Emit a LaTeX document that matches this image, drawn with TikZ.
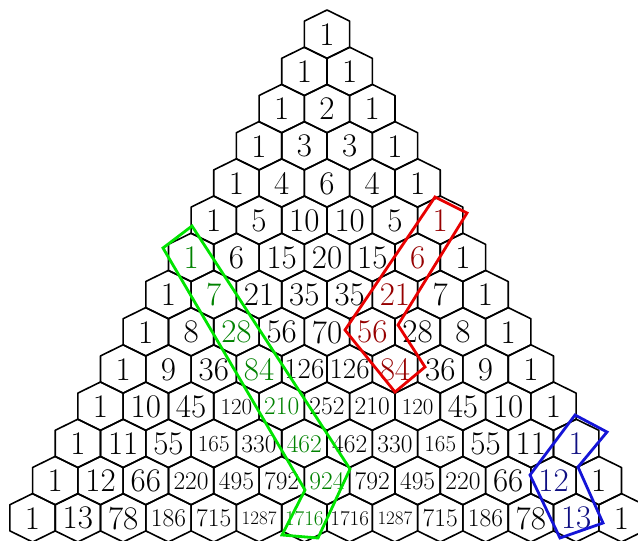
\documentclass[tikz,border=0pt]{standalone}
\definecolor{stickgreen}{RGB}{0,228,0}
\definecolor{stickred}{RGB}{232,0,0}
\definecolor{stickblue}{RGB}{20,20,215}
\definecolor{greentext}{RGB}{0,130,0}
\definecolor{redtext}{RGB}{150,0,0}
\definecolor{bluetext}{RGB}{15,15,130}
\tikzset{every picture/.style={line width=0.75pt}}
\tikzset{
  hexcell/.style={draw=black, line width=1.6pt, line join=round},
  numcell/.style={inner sep=0pt, anchor=center},
  stick/.style={line width=2.8pt, line join=miter},
  % numbers inside the marked cells
  cell 6-0/.style={text=greentext}, cell 7-1/.style={text=greentext},
  cell 8-2/.style={text=greentext}, cell 9-3/.style={text=greentext},
  cell 10-4/.style={text=greentext}, cell 11-5/.style={text=greentext},
  cell 12-6/.style={text=greentext}, cell 13-6/.style={text=greentext},
  cell 5-5/.style={text=redtext}, cell 6-5/.style={text=redtext},
  cell 7-5/.style={text=redtext}, cell 8-5/.style={text=redtext},
  cell 9-6/.style={text=redtext},
  cell 11-11/.style={text=bluetext}, cell 12-11/.style={text=bluetext},
  cell 13-12/.style={text=bluetext}
}

\begin{document}
\begin{tikzpicture}[x=1pt,y=1pt,yscale=-1,xscale=1]
	\useasboundingbox (0,0) rectangle (638,541);
	
	% Pascal rows, one hexagon per entry
	\foreach \r/\vals in {0/{1},1/{1,1},2/{1,2,1},3/{1,3,3,1},4/{1,4,6,4,1},
		5/{1,5,10,10,5,1},6/{1,6,15,20,15,6,1},7/{1,7,21,35,35,21,7,1},
		8/{1,8,28,56,70,56,28,8,1},9/{1,9,36,84,126,126,84,36,9,1},
		10/{1,10,45,120,210,252,210,120,45,10,1},
		11/{1,11,55,165,330,462,462,330,165,55,11,1},
		12/{1,12,66,220,495,792,924,792,495,220,66,12,1},
		13/{1,13,78,186,715,1287,1716,1716,1287,715,186,78,13,1}}{
		\foreach \v [count=\k from 0] in \vals {
			\pgfmathsetmacro\cx{327+45.3*(\k-\r/2)}
			\pgfmathsetmacro\cy{34.6+37.2*\r}
			\ifnum\v>999 \def\fs{21}\else\ifnum\v>99 \def\fs{25.5}\else\def\fs{33}\fi\fi
			\ifnum\v=1287 \def\fs{19}\fi
			\ifnum\v=126 \def\fs{29}\fi
			\ifnum\v=120 \def\fs{23}\fi
			\ifnum\v=165 \def\fs{23}\fi
			% Text Node
			\node[numcell, font=\fontsize{\fs}{\fs}\selectfont, cell \r-\k/.try] (n-\r-\k) at (\cx,\cy) {\v};
			% Hexagon
			\draw[hexcell] (n-\r-\k.center) ++(0,-24.6) -- ++(22.65,11.1) -- ++(0,26.2) -- ++(-22.65,11.1) -- ++(-22.65,-11.1) -- ++(0,-26.2) -- cycle;
		}
	}
	
	% green hockey stick
	\draw[stick, draw=stickgreen] (163,248) -- (192,226) -- (350,469) -- (318,538) -- (282,535) -- (305,490) -- cycle;
	% red hockey stick
	\draw[stick, draw=stickred] (435,197) -- (467,213) -- (398,325) -- (425,367) -- (395,392) -- (345,330) -- cycle;
	% blue hockey stick
	\draw[stick, draw=stickblue] (575,415) -- (607,432) -- (578,467) -- (603,523) -- (560,538) -- (530,475) -- cycle;
\end{tikzpicture}
\end{document}
